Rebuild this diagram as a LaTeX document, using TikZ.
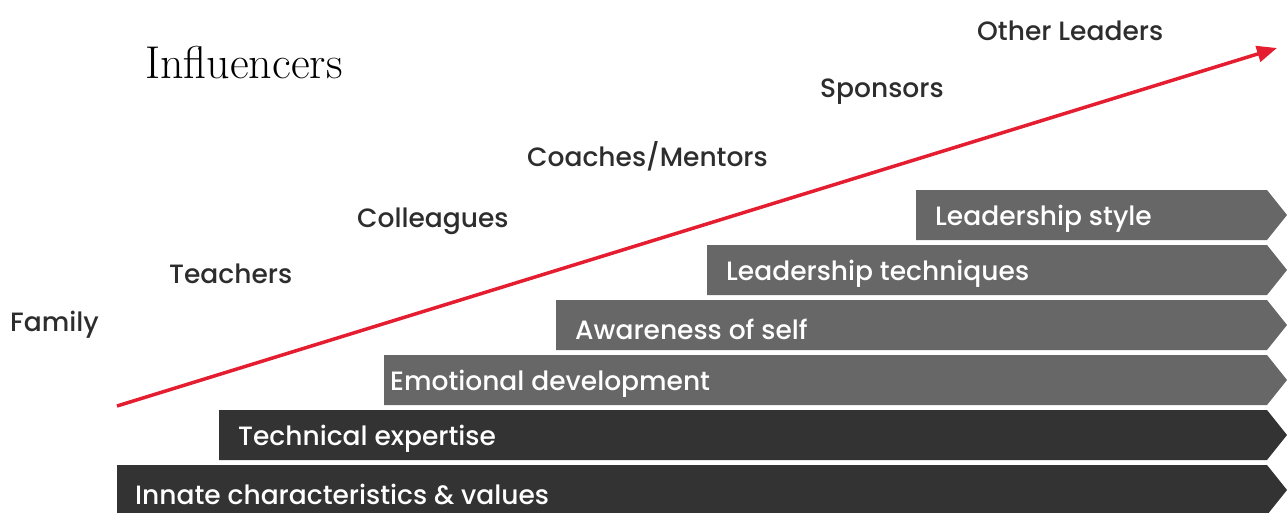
\documentclass[tikz,border=0pt]{standalone}
\usepackage{fontspec}
\usetikzlibrary{arrows.meta}
\newfontfamily\pop{Poppins Medium}
\definecolor{bardark}{RGB}{51,51,51}
\definecolor{barlight}{RGB}{103,103,103}
\definecolor{labelgray}{RGB}{45,45,45}
\definecolor{riserred}{RGB}{228,30,48}
\begin{document}
\begin{tikzpicture}[x=1pt,y=-1pt,
  bartext/.style={anchor=west,inner sep=0pt,text=white,font=\pop\fontsize{26.5}{30}\selectfont},
  who/.style={anchor=west,inner sep=0pt,text=labelgray,font=\pop\fontsize{26.5}{30}\selectfont},
  riser/.style={riserred,line width=3.5pt,-{Triangle[length=20pt,width=16pt]}}]
 \useasboundingbox (0,0) rectangle (1287,512);
 \clip (0,0) rectangle (1287,512);
 % stepped bars, bottom to top
 \foreach \n/\x/\y/\tx/\c/\t in {1/117/465/135/bardark/Innate characteristics \& values,
   2/219/410/238/bardark/Technical expertise,
   3/384/355/390/barlight/Emotional development,
   4/556/300/575/barlight/Awareness of self,
   5/707/245/726/barlight/Leadership techniques,
   6/916/190/935/barlight/Leadership style}
 {\fill[\c](\x,\y)--(1267,\y)--(1287,\y+25)--(1267,\y+50)--(\x,\y+50)--cycle;
  \node[bartext](bar\n)at(\tx,\y+29){\t};}
 % influencers along the rise
 \node[who](family)at(10,325){Family};
 \node[who](teachers)at(169,274){Teachers};
 \node[who](colleagues)at(357,221){Colleagues};
 \node[who](coaches)at(527,156){Coaches/Mentors};
 \node[who](sponsors)at(820,92){Sponsors};
 \node[who](others)at(977,31){Other Leaders};
 \node[anchor=west,inner sep=0pt,font=\fontsize{46}{52}\selectfont](title)at(145,63){Influencers};
 \coordinate(rise start)at(117,406);
 \coordinate(rise end)at(1277,48);
 \draw[riser](rise start)--(rise end);
\end{tikzpicture}
\end{document}
